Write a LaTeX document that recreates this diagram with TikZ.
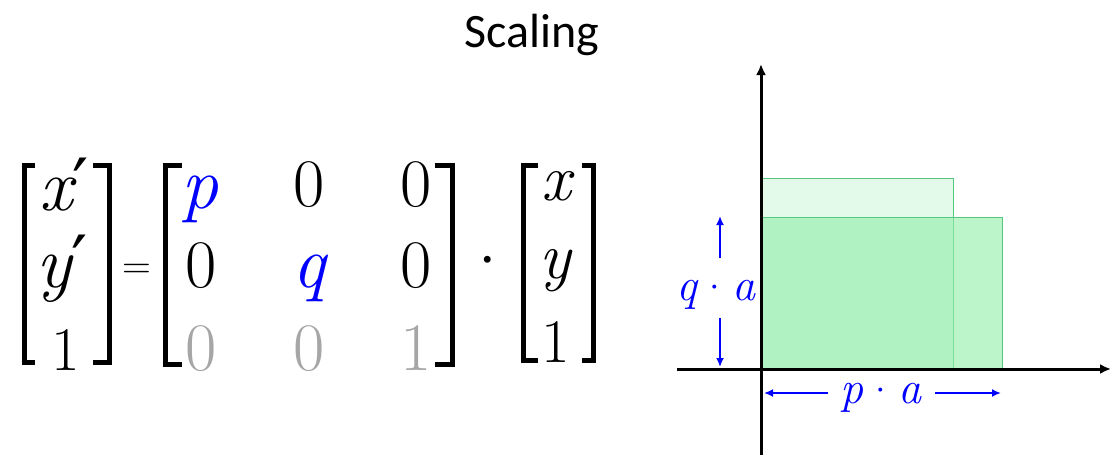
\documentclass[tikz,border=0pt]{standalone}
\usepackage{fontspec}
\setmainfont{Latin Modern Roman}
\newfontfamily\titlefont{Carlito}
\newfontfamily\symf{DejaVu Sans}
\usetikzlibrary{arrows.meta}
\definecolor{myblue}{HTML}{0000FF}
\definecolor{mgray}{HTML}{A6A6A6}
\definecolor{gborder}{HTML}{55C87E}
\definecolor{gscaled}{RGB}{145,238,168}
\definecolor{gorig}{HTML}{E3F9EA}
\newcommand{\dg}[1]{{\rmfamily\upshape\fontsize{68}{72}\selectfont #1}}
\newcommand{\dgs}[1]{{\rmfamily\upshape\fontsize{62}{66}\selectfont #1}}
\newcommand{\ltr}[1]{{\rmfamily\itshape\fontsize{74}{78}\selectfont #1}}
\newcommand{\ltrs}[1]{{\rmfamily\itshape\fontsize{66}{70}\selectfont #1}}
\newcommand{\prm}{{\symf\fontsize{72}{76}\selectfont ′}}
\newcommand{\lbl}[1]{{\rmfamily\itshape\fontsize{46}{50}\selectfont #1}}
\newcommand{\ldot}{\raisebox{-3pt}{\rmfamily\upshape\fontsize{48}{52}\selectfont ·}}
\tikzset{
  ent/.style={inner sep=0pt, anchor=base},
  brk/.style={line width=5pt, line join=miter, line cap=butt},
  axis/.style={line width=3pt, -{Latex[length=11pt,width=10pt]}},
  dim/.style={myblue, line width=2.6pt, -{Latex[length=9pt,width=8pt]}},
  dimlabel/.style={inner sep=0pt, anchor=base, text=myblue},
}
\begin{document}
\begin{tikzpicture}[x=1pt,y=-1pt]
\useasboundingbox (0,0) rectangle (1111,455);
% title
\node[inner sep=0pt, anchor=base, font=\titlefont\fontsize{48}{56}\selectfont] (title) at (532,47) {Scaling};
% left vector
\node[ent] (l1) at (64,210) {\ltr{x}\prm};
\node[ent] (l2) at (62,287) {\ltr{y}\prm};
\node[ent] (l3) at (66,370) {\dgs{1}};
\draw[brk] (35,165.5) -- (24.5,165.5) -- (24.5,362.5) -- (35,362.5);
\draw[brk] (93,165.5) -- (109.5,165.5) -- (109.5,362.5) -- (93,362.5);
% equals
\node[ent] (eq) at (137,278) {{\rmfamily\upshape\fontsize{40}{44}\selectfont =}};
% matrix
\node[ent, text=myblue] (m11) at (200,208) {\ltr{p}};
\node[ent] (m12) at (309,206) {\dg{0}};
\node[ent] (m13) at (416,206) {\dg{0}};
\node[ent] (m21) at (201,287) {\dg{0}};
\node[ent, text=myblue] (m22) at (309,287) {\ltr{q}};
\node[ent] (m23) at (416,287) {\dg{0}};
\node[ent, text=mgray] (m31) at (201,370) {\dg{0}};
\node[ent, text=mgray] (m32) at (309,370) {\dg{0}};
\node[ent, text=mgray] (m33) at (416,370) {\dg{1}};
\draw[brk] (182,165.5) -- (165,165.5) -- (165,364.5) -- (182,364.5);
\draw[brk] (435,165.5) -- (452.5,165.5) -- (452.5,364.5) -- (435,364.5);
% dot
\node[ent] (dot) at (488,288) {{\rmfamily\upshape\fontsize{84}{88}\selectfont ·}};
% right vector
\node[ent] (r1) at (556,200) {\ltrs{x}};
\node[ent] (r2) at (555,278) {\ltrs{y}};
\node[ent] (r3) at (556,362) {\dgs{1}};
\draw[brk] (538,165.5) -- (523.5,165.5) -- (523.5,360.5) -- (538,360.5);
\draw[brk] (582,165.5) -- (593.5,165.5) -- (593.5,360.5) -- (582,360.5);
% rectangles
\fill[gorig] (760,178) rectangle (953,369);
\draw[gborder, line width=1pt] (760,178) rectangle (953,369);
\fill[gscaled, fill opacity=0.6] (760,217) rectangle (1002,369);
\draw[gborder, line width=1pt] (760,217) rectangle (1002,369);
% axes
\coordinate (ybot) at (761,455);
\coordinate (ytop) at (761,64);
\coordinate (xl) at (677,369);
\coordinate (xr) at (1111,369);
\draw[axis] (ybot) -- (ytop);
\draw[axis] (xl) -- (xr);
% q*a
\node[dimlabel] (qa) at (716,300) {\lbl{q}\ldot\lbl{a}};
\coordinate (qa1s) at (720,258);
\coordinate (qa1e) at (720,216);
\coordinate (qa2s) at (720,318);
\coordinate (qa2e) at (720,367);
\draw[dim] (qa1s) -- (qa1e);
\draw[dim] (qa2s) -- (qa2e);
% p*a
\node[dimlabel] (pa) at (881,403) {\lbl{p}\ldot\lbl{a}};
\coordinate (pa1s) at (828,393);
\coordinate (pa1e) at (764,393);
\coordinate (pa2s) at (935,393);
\coordinate (pa2e) at (1001,393);
\draw[dim] (pa1s) -- (pa1e);
\draw[dim] (pa2s) -- (pa2e);
\end{tikzpicture}
\end{document}
